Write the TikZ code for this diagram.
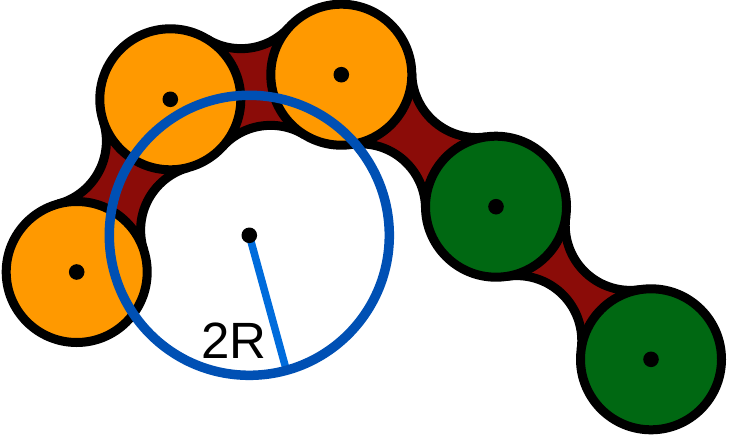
\documentclass[tikz,border=0pt]{standalone}
\usepackage{fontspec}
\setmainfont{Liberation Sans}
\usetikzlibrary{calc,intersections}
\definecolor{orangeA}{RGB}{255,153,0}
\definecolor{greenA}{RGB}{0,104,18}
\definecolor{bridgeRed}{RGB}{139,12,8}
\definecolor{ringBlue}{RGB}{0,80,180}
\definecolor{lineBlue}{RGB}{0,108,220}
\newcommand{\bridgepair}[2]{%
  \path[name path=ca] (#1) circle[radius=135.5pt];
  \path[name path=cb] (#2) circle[radius=135.5pt];
  \path[name intersections={of=ca and cb, by={P1,P2}}];
  \begin{scope}
    \clip (#1) -- (P1) -- (#2) -- (P2) -- cycle;
    \fill[bridgeRed, even odd rule] (-50,-50) rectangle (800,500)
      (P1) circle[radius=65pt] (P2) circle[radius=65pt];
    \draw[line width=9pt] (P1) circle[radius=65pt] (P2) circle[radius=65pt];
  \end{scope}}
\tikzset{
  disk/.style={circle, draw=black, line width=9pt, minimum size=141pt, inner sep=0pt},
  centerdot/.style={fill=black}
}
\begin{document}
\begin{tikzpicture}[x=1pt,y=-1pt]
\useasboundingbox (0,0) rectangle (730,444);
\coordinate (O1) at (76.7,272);
\coordinate (O2) at (170.3,99.3);
\coordinate (O3) at (341.3,74.7);
\coordinate (G1) at (496,206.7);
\coordinate (G2) at (651,359.3);
\coordinate (C) at (249.3,235.3);
\coordinate (E) at (286.4,370.3);
% bridges
\bridgepair{O1}{O2}
\bridgepair{O2}{O3}
\bridgepair{O3}{G1}
\bridgepair{G1}{G2}
% disks
\node[disk, fill=orangeA] (d1) at (O1) {};
\node[disk, fill=orangeA] (d2) at (O2) {};
\node[disk, fill=orangeA] (d3) at (O3) {};
\node[disk, fill=greenA] (d4) at (G1) {};
\node[disk, fill=greenA] (d5) at (G2) {};
\foreach \p in {O1,O2,O3,G1,G2} \fill[centerdot] (\p) circle[radius=7.8pt];
% probe ring
\draw[lineBlue, line width=7.5pt] (C) -- (E);
\draw[ringBlue, line width=9.5pt] (C) circle[radius=140pt];
\fill[centerdot] (C) circle[radius=7.8pt];
\node[anchor=base, font=\fontsize{51}{51}\selectfont, inner sep=0pt] (lbl) at (234.2,358.7) {2R};
\end{tikzpicture}
\end{document}
